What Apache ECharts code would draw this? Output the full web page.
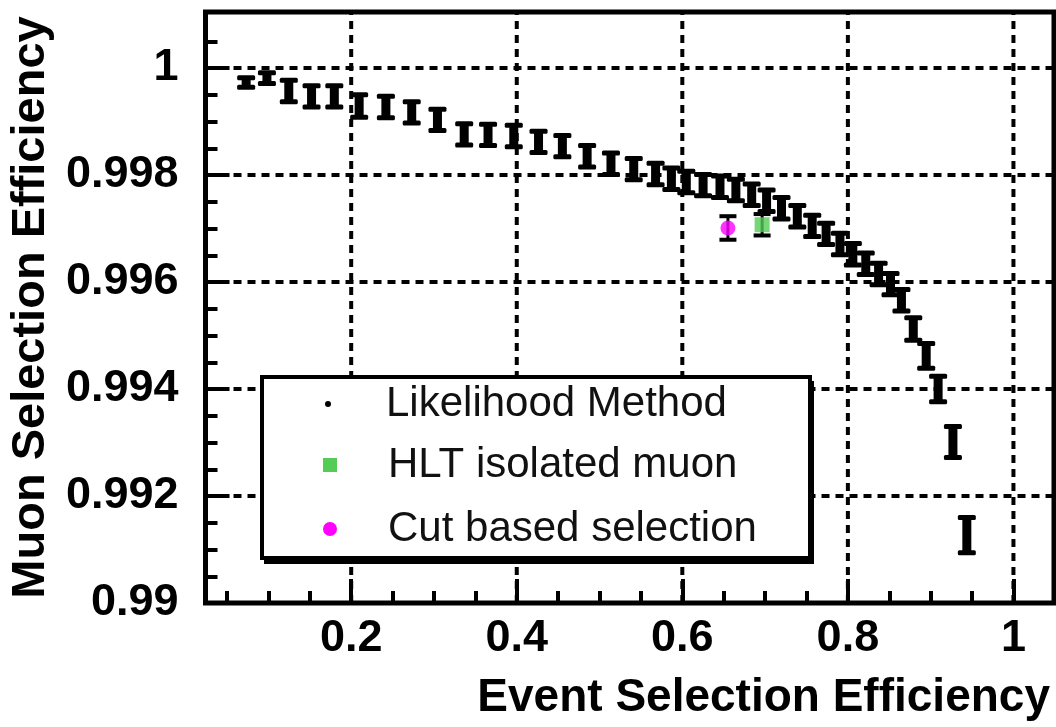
<!DOCTYPE html>
<html>
<head>
<meta charset="utf-8">
<script src="https://cdn.jsdelivr.net/npm/echarts@6/dist/echarts.min.js"></script>
<style>
  html, body { margin: 0; padding: 0; background: #fff; }
  #chart { width: 1056px; height: 727px; }
</style>
</head>
<body>
<div id="chart"></div>
<script>
// Likelihood method scan: event selection efficiency vs muon selection efficiency
const effX = [
  0.0731, 0.0982, 0.1246, 0.1521, 0.1796, 0.2096, 0.2419, 0.2731, 0.3042, 0.3365,
  0.3653, 0.3964, 0.4263, 0.4551, 0.4850, 0.5138, 0.5413, 0.5677, 0.5868, 0.6048,
  0.6251, 0.6455, 0.6647, 0.6838, 0.7018, 0.7198, 0.7389, 0.7569, 0.7737, 0.7904,
  0.8060, 0.8216, 0.8371, 0.8515, 0.8647, 0.8790, 0.8946, 0.9090, 0.9269, 0.9437
];
const muonEff = [
  0.99973, 0.99981, 0.99957, 0.99947, 0.99947, 0.99929, 0.99927, 0.99917, 0.99903, 0.99876,
  0.99875, 0.99873, 0.99862, 0.99854, 0.99835, 0.99821, 0.99811, 0.99802, 0.99793, 0.99787,
  0.99781, 0.99778, 0.99772, 0.99763, 0.99752, 0.99738, 0.99723, 0.99705, 0.99690, 0.99671,
  0.99652, 0.99634, 0.99615, 0.99596, 0.99566, 0.99512, 0.99462, 0.99400, 0.99301, 0.99127
];
const muonErr = [
  0.00009, 0.00010, 0.00020, 0.00020, 0.00020, 0.00021, 0.00020, 0.00020, 0.00020, 0.00020,
  0.00020, 0.00020, 0.00020, 0.00020, 0.00020, 0.00020, 0.00020, 0.00020, 0.00020, 0.00020,
  0.00020, 0.00020, 0.00020, 0.00020, 0.00020, 0.00020, 0.00020, 0.00020, 0.00020, 0.00020,
  0.00020, 0.00020, 0.00020, 0.00020, 0.00020, 0.00021, 0.00023, 0.00024, 0.00029, 0.00033
];

// Single working points: [event eff, muon eff, error]
const hltPoint = [0.6964, 0.99707, 0.00020];
const cutPoint = [0.6551, 0.99701, 0.00022];

// Axis ticks
const xMajorTicks = [0.2, 0.4, 0.6, 0.8, 1.0];
const xMinorTicks = [0.05, 0.1, 0.15, 0.25, 0.3, 0.35, 0.45, 0.5, 0.55, 0.65, 0.7, 0.75, 0.85, 0.9, 0.95];
const yMajorTicks = [0.99, 0.992, 0.994, 0.996, 0.998, 1.0];
const yMinorTicks = [0.9905, 0.991, 0.9915, 0.9925, 0.993, 0.9935, 0.9945, 0.995, 0.9955,
  0.9965, 0.997, 0.9975, 0.9985, 0.999, 0.9995, 1.0005];

const X_MIN = 0.024, X_MAX = 1.049;
const Y_MIN = 0.99, Y_MAX = 1.001047;

const FONT = '"Liberation Sans", Arial, Helvetica, sans-serif';
const fmt = v => String(parseFloat(Number(v).toFixed(4)));

// thick "I" shaped error bars
function thickBar(params, api) {
  const x = api.value(0), y = api.value(1), e = api.value(2);
  const hi = api.coord([x, y + e]);
  const lo = api.coord([x, y - e]);
  const st = { fill: '#000' };
  return {
    type: 'group',
    children: [
      { type: 'rect', shape: { x: hi[0] - 4.5, y: hi[1], width: 9, height: lo[1] - hi[1] }, style: st },
      { type: 'rect', shape: { x: hi[0] - 9, y: hi[1] - 2.5, width: 18, height: 5, r: 1.5 }, style: st },
      { type: 'rect', shape: { x: lo[0] - 9, y: lo[1] - 2.5, width: 18, height: 5, r: 1.5 }, style: st }
    ]
  };
}
// thin error bars for single working points
function thinBar(params, api) {
  const x = api.value(0), y = api.value(1), e = api.value(2);
  const hi = api.coord([x, y + e]);
  const lo = api.coord([x, y - e]);
  const st = { fill: '#000' };
  return {
    type: 'group',
    children: [
      { type: 'rect', shape: { x: hi[0] - 1.5, y: hi[1], width: 3, height: lo[1] - hi[1] }, style: st },
      { type: 'rect', shape: { x: hi[0] - 8.5, y: hi[1] - 2, width: 17, height: 4 }, style: st },
      { type: 'rect', shape: { x: lo[0] - 8.5, y: lo[1] - 2, width: 17, height: 4 }, style: st }
    ]
  };
}
// dotted grid line through one major tick: [axis (0 = x, 1 = y), value]
const gridStroke = { stroke: '#000', lineWidth: 4, lineDash: [8, 6], fill: null };
function gridLine(params, api) {
  const axis = api.value(0), v = api.value(1);
  const a = axis === 0 ? api.coord([v, Y_MIN]) : api.coord([X_MIN, v]);
  const b = axis === 0 ? api.coord([v, Y_MAX]) : api.coord([X_MAX, v]);
  return { type: 'line', shape: { x1: a[0], y1: a[1], x2: b[0], y2: b[1] }, style: gridStroke };
}
const gridData = xMajorTicks.map(v => [0, v]).concat(
  yMajorTicks.filter(v => v > Y_MIN).map(v => [1, v]));

const legendText = { fontSize: 42, fontFamily: FONT, color: '#111', lineHeight: 48 };
const legendCommon = {
  orient: 'horizontal', padding: 0, itemGap: 0, selectedMode: false,
  itemWidth: 106, textStyle: legendText, z: 5
};

const chart = echarts.init(document.getElementById('chart'), null, { renderer: 'canvas' });
chart.setOption({
  animation: false,
  backgroundColor: '#fff',
  grid: {
    left: 198, right: 2, top: 12, bottom: 124,
    show: true, borderColor: '#000', borderWidth: 5, backgroundColor: 'transparent'
  },
  xAxis: [
    {
      type: 'value', min: X_MIN, max: X_MAX, position: 'bottom', offset: 0,
      axisLine: { show: false },
      splitLine: { show: false },
      axisTick: { show: true, inside: true, length: 24, customValues: xMajorTicks, lineStyle: { color: '#000', width: 4 } },
      axisLabel: {
        show: true, customValues: xMajorTicks, formatter: fmt, margin: 13,
        fontSize: 45, fontWeight: 'bold', fontFamily: FONT, color: '#000'
      },
      name: 'Event Selection Efficiency',
      nameLocation: 'end', nameGap: -4,
      nameTextStyle: {
        fontSize: 46, fontWeight: 'bold', fontFamily: FONT, color: '#000',
        align: 'right', verticalAlign: 'top', padding: [72, 0, 0, 0]
      }
    },
    {
      type: 'value', min: X_MIN, max: X_MAX, position: 'bottom', offset: 0,
      axisLine: { show: false }, splitLine: { show: false },
      axisTick: { show: true, inside: true, length: 12, customValues: xMinorTicks, lineStyle: { color: '#000', width: 4 } },
      axisLabel: { show: false }
    }
  ],
  yAxis: [
    {
      type: 'value', min: Y_MIN, max: Y_MAX, position: 'left', offset: 0,
      axisLine: { show: false },
      splitLine: { show: false },
      axisTick: { show: true, inside: true, length: 24, customValues: yMajorTicks, lineStyle: { color: '#000', width: 4 } },
      axisLabel: {
        show: true, customValues: yMajorTicks, formatter: fmt, margin: 27,
        fontSize: 45, fontWeight: 'bold', fontFamily: FONT, color: '#000'
      },
      name: 'Muon Selection Efficiency',
      nameLocation: 'middle', nameGap: 150, nameRotate: 90,
      nameTextStyle: { fontSize: 47, fontWeight: 'bold', fontFamily: FONT, color: '#000' }
    },
    {
      type: 'value', min: Y_MIN, max: Y_MAX, position: 'left', offset: 0,
      axisLine: { show: false }, splitLine: { show: false },
      axisTick: { show: true, inside: true, length: 12, customValues: yMinorTicks, lineStyle: { color: '#000', width: 4 } },
      axisLabel: { show: false }
    }
  ],
  legend: [
    Object.assign({}, legendCommon, {
      left: 325, top: 380, itemHeight: 6,
      data: [{ name: 'Likelihood Method', icon: 'circle', itemStyle: { color: '#000' } }]
    }),
    Object.assign({}, legendCommon, {
      left: 323, top: 441, itemHeight: 14,
      data: [{ name: 'HLT isolated muon', icon: 'path://M0,0H10V10H0Z', itemStyle: { color: '#55cc55' } }]
    }),
    Object.assign({}, legendCommon, {
      left: 323, top: 505, itemHeight: 14,
      data: [{ name: 'Cut based selection', icon: 'circle', itemStyle: { color: '#ff00ff' } }]
    })
  ],
  graphic: [
    { type: 'rect', z: 3, shape: { x: 264, y: 381, width: 550, height: 183 }, style: { fill: '#000' } },
    { type: 'rect', z: 3, shape: { x: 262, y: 377, width: 548, height: 181 }, style: { fill: '#fff', stroke: '#000', lineWidth: 4 } }
  ],
  series: [
    {
      // dotted grid at the major ticks
      name: 'grid', type: 'custom', z: 1, silent: true, clip: false,
      renderItem: gridLine,
      encode: { x: -1, y: -1 },
      data: gridData
    },
    {
      name: 'Likelihood Method', type: 'custom', z: 2, clip: false,
      renderItem: thickBar,
      encode: { x: 0, y: 1 },
      itemStyle: { color: '#000' },
      data: effX.map((x, i) => [x, muonEff[i], muonErr[i]])
    },
    {
      name: 'HLT isolated muon', type: 'custom', z: 2, renderItem: thinBar,
      encode: { x: 0, y: 1 }, itemStyle: { color: '#55cc55' },
      data: [hltPoint]
    },
    {
      name: 'Cut based selection', type: 'custom', z: 2, renderItem: thinBar,
      encode: { x: 0, y: 1 }, itemStyle: { color: '#ff00ff' },
      data: [cutPoint]
    },
    {
      name: 'HLT isolated muon', type: 'scatter', z: 3, symbol: 'rect', symbolSize: 15,
      itemStyle: { color: '#55cc55' },
      data: [[hltPoint[0], hltPoint[1]]]
    },
    {
      name: 'Cut based selection', type: 'scatter', z: 3, symbol: 'circle', symbolSize: 15,
      itemStyle: { color: '#ff00ff' },
      data: [[cutPoint[0], cutPoint[1]]]
    }
  ]
});
</script>
</body>
</html>
